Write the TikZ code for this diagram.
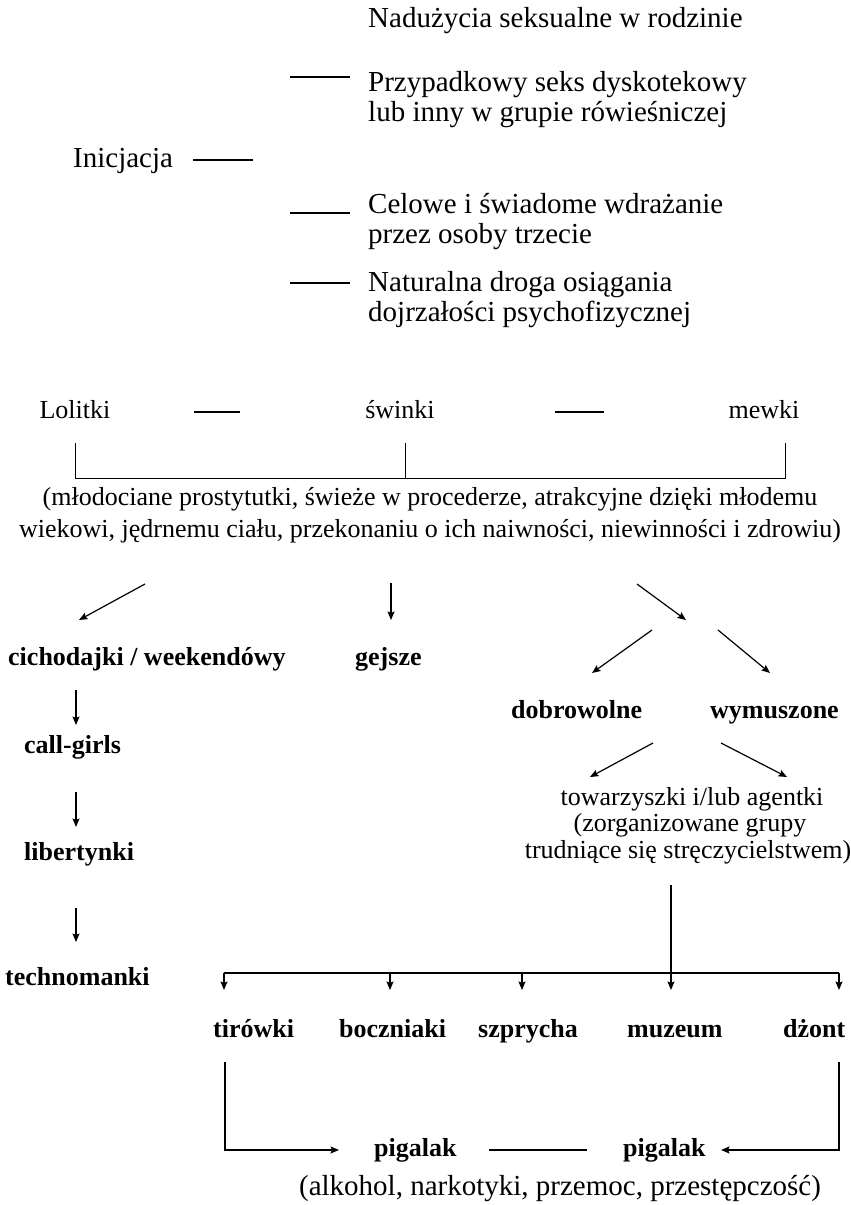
\documentclass[tikz,border=0pt]{standalone}
\usepackage{fontspec}
\setmainfont{Liberation Serif}
\usetikzlibrary{arrows.meta}
\begin{document}
\begin{tikzpicture}[x=1pt,y=-1pt,
  txt/.style={inner sep=0pt,font=\fontsize{29}{30}\selectfont},
  mid/.style={inner sep=0pt,font=\fontsize{26}{28}\selectfont},
  sm/.style={inner sep=0pt,font=\fontsize{26}{28}\selectfont},
  alkst/.style={inner sep=0pt,font=\fontsize{29}{30}\selectfont},
  bl/.style={inner sep=0pt,font=\fontsize{26}{28}\selectfont\bfseries},
  ln/.style={line width=1.2pt},
  arr/.style={line width=1.2pt,-{Stealth[length=8.5pt,width=7pt,inset=1.5pt]}}]
\useasboundingbox (0,0) rectangle (851,1205);

% --- Top: initiation ---
\node[txt,anchor=base west] (nad) at (368,27) {Nadużycia seksualne w rodzinie};
\node[txt,anchor=base west] (p1) at (368,91) {Przypadkowy seks dyskotekowy};
\node[txt,anchor=base west] (p2) at (368,121) {lub inny w grupie rówieśniczej};
\node[txt,anchor=base west] (ini) at (73,167) {Inicjacja};
\node[txt,anchor=base west] (c1) at (368,213) {Celowe i świadome wdrażanie};
\node[txt,anchor=base west] (c2) at (368,243) {przez osoby trzecie};
\node[txt,anchor=base west] (n1) at (368,291) {Naturalna droga osiągania};
\node[txt,anchor=base west] (n2) at (368,321) {dojrzałości psychofizycznej};

\coordinate (d1a) at (290,77);  \coordinate (d1b) at (350,77);
\coordinate (d2a) at (193,160); \coordinate (d2b) at (253,160);
\coordinate (d3a) at (290,213); \coordinate (d3b) at (350,213);
\coordinate (d4a) at (290,283); \coordinate (d4b) at (350,283);
\draw[ln] (d1a) -- (d1b);
\draw[ln] (d2a) -- (d2b);
\draw[ln] (d3a) -- (d3b);
\draw[ln] (d4a) -- (d4b);

% --- Middle row ---
\node[mid,anchor=base] (lol) at (75,418) {Lolitki};
\node[mid,anchor=base] (swi) at (400,418) {świnki};
\node[mid,anchor=base] (mew) at (764,418) {mewki};
\coordinate (e1a) at (194,412); \coordinate (e1b) at (240,412);
\coordinate (e2a) at (555,412); \coordinate (e2b) at (604,412);
\draw[ln] (e1a) -- (e1b);
\draw[ln] (e2a) -- (e2b);

\coordinate (bl1) at (75,443);  \coordinate (bl2) at (75,478);
\coordinate (bm1) at (405,443); \coordinate (bm2) at (405,478);
\coordinate (br1) at (785,443); \coordinate (br2) at (785,478);
\draw[line width=1pt] (bl1) -- (bl2) -- (br2) -- (br1);
\draw[line width=1pt] (bm1) -- (bm2);

\node[mid,anchor=base] (desc1) at (430,505) {(młodociane prostytutki, świeże w procederze, atrakcyjne dzięki młodemu};
\node[mid,anchor=base] (desc2) at (430,537) {wiekowi, jędrnemu ciału, przekonaniu o ich naiwności, niewinności i zdrowiu)};

\coordinate (a1s) at (145,584); \coordinate (a1e) at (79,620);
\coordinate (a2s) at (391,583); \coordinate (a2e) at (391,620);
\coordinate (a3s) at (637,584); \coordinate (a3e) at (686,620);
\draw[arr] (a1s) -- (a1e);
\draw[arr] (a2s) -- (a2e);
\draw[arr] (a3s) -- (a3e);

% --- Left column ---
\node[bl,anchor=base west] (cich) at (8,665) {cichodajki / weekendówy};
\node[bl,anchor=base west] (call) at (24,753) {call-girls};
\node[bl,anchor=base west] (lib) at (24,860) {libertynki};
\node[bl,anchor=base west] (tech) at (5,985) {technomanki};
\coordinate (l1s) at (76,690); \coordinate (l1e) at (76,725);
\coordinate (l2s) at (76,792); \coordinate (l2e) at (76,827);
\coordinate (l3s) at (76,908); \coordinate (l3e) at (76,942);
\draw[arr] (l1s) -- (l1e);
\draw[arr] (l2s) -- (l2e);
\draw[arr] (l3s) -- (l3e);

\node[bl,anchor=base west] (gej) at (355,665) {gejsze};

% --- Right branch ---
\coordinate (r1s) at (652,630); \coordinate (r1e) at (592,673);
\coordinate (r2s) at (718,630); \coordinate (r2e) at (770,673);
\draw[arr] (r1s) -- (r1e);
\draw[arr] (r2s) -- (r2e);
\node[bl,anchor=base west] (dob) at (511,718) {dobrowolne};
\node[bl,anchor=base west] (wym) at (710,718) {wymuszone};
\coordinate (r3s) at (653,743); \coordinate (r3e) at (590,777);
\coordinate (r4s) at (721,743); \coordinate (r4e) at (787,777);
\draw[arr] (r3s) -- (r3e);
\draw[arr] (r4s) -- (r4e);

\node[sm,anchor=base] (tow1) at (692,805) {towarzyszki i/lub agentki};
\node[sm,anchor=base] (tow2) at (690,831) {(zorganizowane grupy};
\node[sm,anchor=base] (tow3) at (688,858) {trudniące się stręczycielstwem)};

\coordinate (v1) at (671,885); \coordinate (v2) at (671,973);
\coordinate (hL) at (224,973); \coordinate (hR) at (839,973);
\draw[line width=1.2pt] (v1) -- (v2);
\draw[line width=1.2pt] (hL) -- (hR);
\foreach \x in {224,390,522,671,839}{
  \draw[arr] (\x,973) -- (\x,990);
}

% --- Bottom row ---
\node[bl,anchor=base west] (tir) at (213,1037) {tirówki};
\node[bl,anchor=base west] (boc) at (339,1037) {boczniaki};
\node[bl,anchor=base west] (szp) at (478,1037) {szprycha};
\node[bl,anchor=base west] (muz) at (627,1037) {muzeum};
\node[bl,anchor=base west] (dzo) at (783,1037) {dżont};

\node[bl,anchor=base west] (pig1) at (374,1156) {pigalak};
\node[bl,anchor=base west] (pig2) at (623,1156) {pigalak};

\coordinate (tl1) at (225,1062); \coordinate (tl2) at (225,1150); \coordinate (tl3) at (339,1150);
\coordinate (tr1) at (839,1062); \coordinate (tr2) at (839,1150); \coordinate (tr3) at (721,1150);
\draw[arr] (tl1) -- (tl2) -- (tl3);
\draw[arr] (tr1) -- (tr2) -- (tr3);
\coordinate (pd1) at (489,1150); \coordinate (pd2) at (587,1150);
\draw[ln] (pd1) -- (pd2);

\node[alkst,anchor=base] (alk) at (560,1195) {(alkohol, narkotyki, przemoc, przestępczość)};
\end{tikzpicture}
\end{document}
